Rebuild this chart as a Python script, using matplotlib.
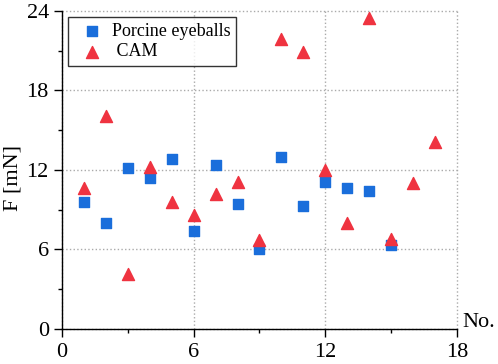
import matplotlib
matplotlib.use("Agg")
import matplotlib.pyplot as plt
from matplotlib.ticker import MultipleLocator

### Data
porcine_no = [1, 2, 3, 4, 5, 6, 7, 8, 9, 10, 11, 12, 13, 14, 15]
porcine_f = [9.6, 8.0, 12.1, 11.4, 12.8, 7.4, 12.4, 9.4, 6.0, 13.0, 9.3, 11.1, 10.6, 10.4, 6.3]

cam_no = [1, 2, 3, 4, 5, 6, 7, 8, 9, 10, 11, 12, 13, 14, 15, 16, 17]
cam_f = [10.6, 16.1, 4.1, 12.2, 9.6, 8.6, 10.2, 11.1, 6.7, 21.9, 20.9, 12.0, 8.0, 23.5, 6.8, 11.0, 14.1]

plt.rcParams['font.family'] = ['Liberation Serif', 'DejaVu Serif']

fig = plt.figure(figsize=(4.98, 3.64), dpi=100)
ax = fig.add_axes([0.1245, 0.097, 0.793, 0.873])

ax.scatter(porcine_no, porcine_f, marker='s', s=50, color='#1a6edb', label='Porcine eyeballs', zorder=3, clip_on=False)
ax.scatter(cam_no, cam_f, marker='^', s=75, color='#ef3340', label=' CAM', zorder=3, clip_on=False)

ax.set_xlim(0, 18)
ax.set_ylim(0, 24)
ax.xaxis.set_major_locator(MultipleLocator(6))
ax.xaxis.set_minor_locator(MultipleLocator(3))
ax.yaxis.set_major_locator(MultipleLocator(6))
ax.yaxis.set_minor_locator(MultipleLocator(3))

ax.grid(which='major', linestyle=':', color='#aaaaaa', linewidth=1.0)
ax.set_axisbelow(True)
for gl in ax.get_xgridlines() + ax.get_ygridlines():
    gl.set_clip_on(False)

ax.spines['top'].set_visible(False)
ax.spines['right'].set_visible(False)
ax.spines['left'].set_linewidth(1.0)
ax.spines['bottom'].set_linewidth(1.0)

ax.tick_params(which='major', direction='out', length=6, width=1.0, labelsize=16)
ax.tick_params(axis='y', which='major', pad=3.5)
ax.tick_params(axis='x', which='major', pad=4)
ax.tick_params(which='minor', direction='out', length=3, width=1.0)

### y label placed directly on the figure
fig.text(0.026, 0.51, 'F [mN]', fontsize=16, rotation=90, ha='center', va='center')
ax.text(1.013, 0.005, 'No.', transform=ax.transAxes, fontsize=16, ha='left', va='baseline')

leg = ax.legend(loc='upper left', bbox_to_anchor=(0.0, 1.0), fontsize=13, frameon=True,
                fancybox=False, edgecolor='black', handletextpad=0.1, handlelength=2.0,
                borderpad=0.3, borderaxespad=0.35, labelspacing=0.2, scatterpoints=1)
leg.get_frame().set_linewidth(1.0)

fig.savefig('out.png', dpi=100)
